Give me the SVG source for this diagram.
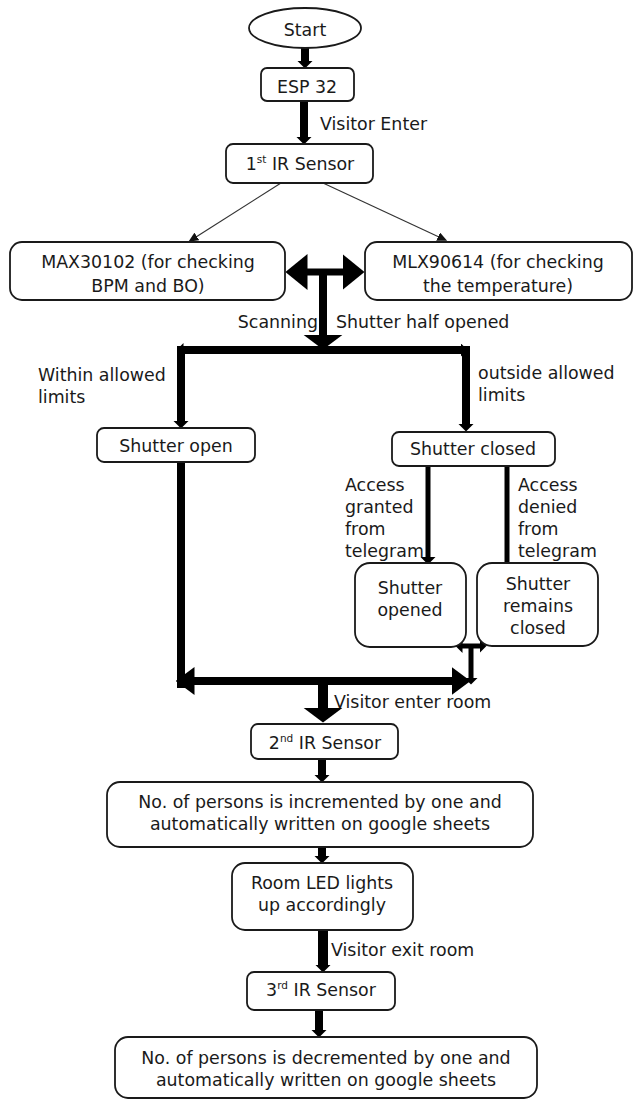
<svg xmlns="http://www.w3.org/2000/svg" width="634" height="1100" viewBox="0 0 634 1100">
<style>
  .box { fill: #fff; stroke: #1a1a1a; stroke-width: 1.8; }
  .t { font-family: "DejaVu Sans", "Open Sans", sans-serif; font-size: 17.4px; fill: #1a1a1a; }
  .c { text-anchor: middle; }
  .e { text-anchor: end; }
  .sup { font-size: 10.5px; }
  .w8 { stroke: #000; stroke-width: 8; fill: none; }
  .w10 { stroke: #000; stroke-width: 10; fill: none; }
  .w7 { stroke: #000; stroke-width: 7; fill: none; }
  .w5 { stroke: #000; stroke-width: 5; fill: none; }
  .thin { stroke: #333; stroke-width: 1.2; fill: none; }
</style>
<defs>
  <marker id="hs" markerUnits="userSpaceOnUse" viewBox="0 0 8 16" refX="0.5" refY="8" markerWidth="8" markerHeight="16" orient="auto-start-reverse"><path d="M0,0 L8,8 L0,16 z" fill="#000"/></marker>
  <marker id="hb" markerUnits="userSpaceOnUse" viewBox="0 0 15 40" refX="0.5" refY="20" markerWidth="15" markerHeight="40" orient="auto-start-reverse"><path d="M0,0 L15,20 L0,40 z" fill="#000"/></marker>
  <marker id="hm" markerUnits="userSpaceOnUse" viewBox="0 0 22 36" refX="0.5" refY="18" markerWidth="22" markerHeight="36" orient="auto-start-reverse"><path d="M0,0 L22,18 L0,36 z" fill="#000"/></marker>
  <marker id="hbar" markerUnits="userSpaceOnUse" viewBox="0 0 19 28" refX="0.5" refY="14" markerWidth="19" markerHeight="28" orient="auto-start-reverse"><path d="M0,0 L19,14 L0,28 z" fill="#000"/></marker>
  <marker id="hx" markerUnits="userSpaceOnUse" viewBox="0 0 7 14" refX="0.5" refY="7" markerWidth="7" markerHeight="14" orient="auto-start-reverse"><path d="M0,0 L7,7 L0,14 z" fill="#000"/></marker>
  <marker id="ht" markerUnits="userSpaceOnUse" viewBox="0 0 10 9" refX="1" refY="4.5" markerWidth="10" markerHeight="9" orient="auto"><path d="M0,0 L10,4.5 L0,9 z" fill="#111"/></marker>
</defs>

<g id="connectors">
  <line class="w8" x1="305" y1="48" x2="305" y2="61" marker-end="url(#hs)"/>
  <line class="w8" x1="304" y1="101" x2="304" y2="137" marker-end="url(#hs)"/>
  <line class="thin" x1="281" y1="183" x2="196" y2="237" marker-end="url(#ht)"/>
  <line class="thin" x1="323" y1="183" x2="439" y2="237" marker-end="url(#ht)"/>
  <line class="w7" x1="307" y1="272" x2="343" y2="272" marker-start="url(#hm)" marker-end="url(#hm)"/>
  <line class="w8" x1="323" y1="272" x2="323" y2="335"/>
  <line class="w8" x1="323" y1="330" x2="323" y2="335" marker-end="url(#hb)"/>
  <line class="w8" x1="183" y1="350" x2="461" y2="350" marker-start="url(#hx)" marker-end="url(#hx)"/>
  <line class="w8" x1="181" y1="346" x2="181" y2="421" marker-end="url(#hs)"/>
  <line class="w8" x1="466" y1="346" x2="466" y2="424" marker-end="url(#hs)"/>
  <line class="w8" x1="181" y1="462" x2="181" y2="688"/>
  <line class="w8" x1="194" y1="681" x2="452" y2="681" marker-start="url(#hbar)" marker-end="url(#hbar)"/>
  <line class="w5" x1="428" y1="466" x2="428" y2="557" marker-end="url(#hs)"/>
  <line class="w5" x1="507" y1="466" x2="507" y2="563"/>
  <line class="w5" x1="462" y1="646" x2="480" y2="646" marker-start="url(#hx)" marker-end="url(#hx)"/>
  <line class="w5" x1="471" y1="646" x2="471" y2="678" marker-end="url(#hx)"/>
  <line class="w10" x1="323" y1="681" x2="323" y2="708" marker-end="url(#hb)"/>
  <line class="w8" x1="322" y1="759" x2="322" y2="775" marker-end="url(#hs)"/>
  <line class="w8" x1="322" y1="847" x2="322" y2="856" marker-end="url(#hs)"/>
  <line class="w10" x1="323" y1="930" x2="323" y2="965" marker-end="url(#hs)"/>
  <line class="w8" x1="319" y1="1010" x2="319" y2="1030" marker-end="url(#hs)"/>
</g>

<g id="start">
  <ellipse class="box" cx="305" cy="28" rx="56" ry="20"/>
  <text class="t c" x="305" y="36">Start</text>
</g>
<g id="esp32">
  <rect class="box" x="261" y="68" width="93" height="33" rx="6"/>
  <text class="t c" x="307" y="93">ESP 32</text>
</g>
<text class="t" x="320" y="130">Visitor Enter</text>
<g id="ir1">
  <rect class="box" x="226" y="144" width="147" height="39" rx="7"/>
  <text class="t c" x="300" y="170">1<tspan class="sup" dy="-7">st</tspan><tspan dy="7"> IR Sensor</tspan></text>
</g>
<g id="max30102">
  <rect class="box" x="10" y="242" width="275" height="58" rx="12"/>
  <text class="t c" x="148" y="268">MAX30102 (for checking</text>
  <text class="t c" x="148" y="292">BPM and BO)</text>
</g>
<g id="mlx90614">
  <rect class="box" x="365" y="242" width="267" height="58" rx="12"/>
  <text class="t c" x="498" y="268">MLX90614 (for checking</text>
  <text class="t c" x="498" y="292">the temperature)</text>
</g>
<text class="t e" x="318" y="328">Scanning</text>
<text class="t" x="336" y="328">Shutter half opened</text>
<text class="t" x="38" y="381">Within allowed</text>
<text class="t" x="38" y="403">limits</text>
<text class="t" x="478" y="379">outside allowed</text>
<text class="t" x="478" y="401">limits</text>
<g id="shutter-open">
  <rect class="box" x="97" y="428" width="158" height="34" rx="7"/>
  <text class="t c" x="176" y="452">Shutter open</text>
</g>
<g id="shutter-closed">
  <rect class="box" x="392" y="432" width="163" height="34" rx="7"/>
  <text class="t c" x="473" y="455">Shutter closed</text>
</g>
<text class="t" x="345" y="491">Access</text>
<text class="t" x="345" y="513">granted</text>
<text class="t" x="345" y="535">from</text>
<text class="t" x="345" y="557">telegram</text>
<text class="t" x="518" y="491">Access</text>
<text class="t" x="518" y="513">denied</text>
<text class="t" x="518" y="535">from</text>
<text class="t" x="518" y="557">telegram</text>
<g id="shutter-opened">
  <rect class="box" x="355" y="563" width="111" height="84" rx="15"/>
  <text class="t c" x="410" y="594">Shutter</text>
  <text class="t c" x="410" y="616">opened</text>
</g>
<g id="shutter-remains-closed">
  <rect class="box" x="477" y="563" width="121" height="83" rx="15"/>
  <text class="t c" x="538" y="590">Shutter</text>
  <text class="t c" x="538" y="612">remains</text>
  <text class="t c" x="538" y="634">closed</text>
</g>
<text class="t" x="334" y="708">Visitor enter room</text>
<g id="ir2">
  <rect class="box" x="251" y="724" width="147" height="35" rx="7"/>
  <text class="t c" x="325" y="749">2<tspan class="sup" dy="-7">nd</tspan><tspan dy="7"> IR Sensor</tspan></text>
</g>
<g id="increment">
  <rect class="box" x="107" y="782" width="426" height="65" rx="13"/>
  <text class="t c" x="320" y="808">No. of persons is incremented by one and</text>
  <text class="t c" x="320" y="830">automatically written on google sheets</text>
</g>
<g id="room-led">
  <rect class="box" x="232" y="863" width="181" height="67" rx="13"/>
  <text class="t c" x="322" y="889">Room LED lights</text>
  <text class="t c" x="322" y="911">up accordingly</text>
</g>
<text class="t" x="331" y="956">Visitor exit room</text>
<g id="ir3">
  <rect class="box" x="247" y="972" width="148" height="38" rx="7"/>
  <text class="t c" x="321" y="996">3<tspan class="sup" dy="-7">rd</tspan><tspan dy="7"> IR Sensor</tspan></text>
</g>
<g id="decrement">
  <rect class="box" x="115" y="1037" width="422" height="61" rx="13"/>
  <text class="t c" x="326" y="1064">No. of persons is decremented by one and</text>
  <text class="t c" x="326" y="1086">automatically written on google sheets</text>
</g>
</svg>
